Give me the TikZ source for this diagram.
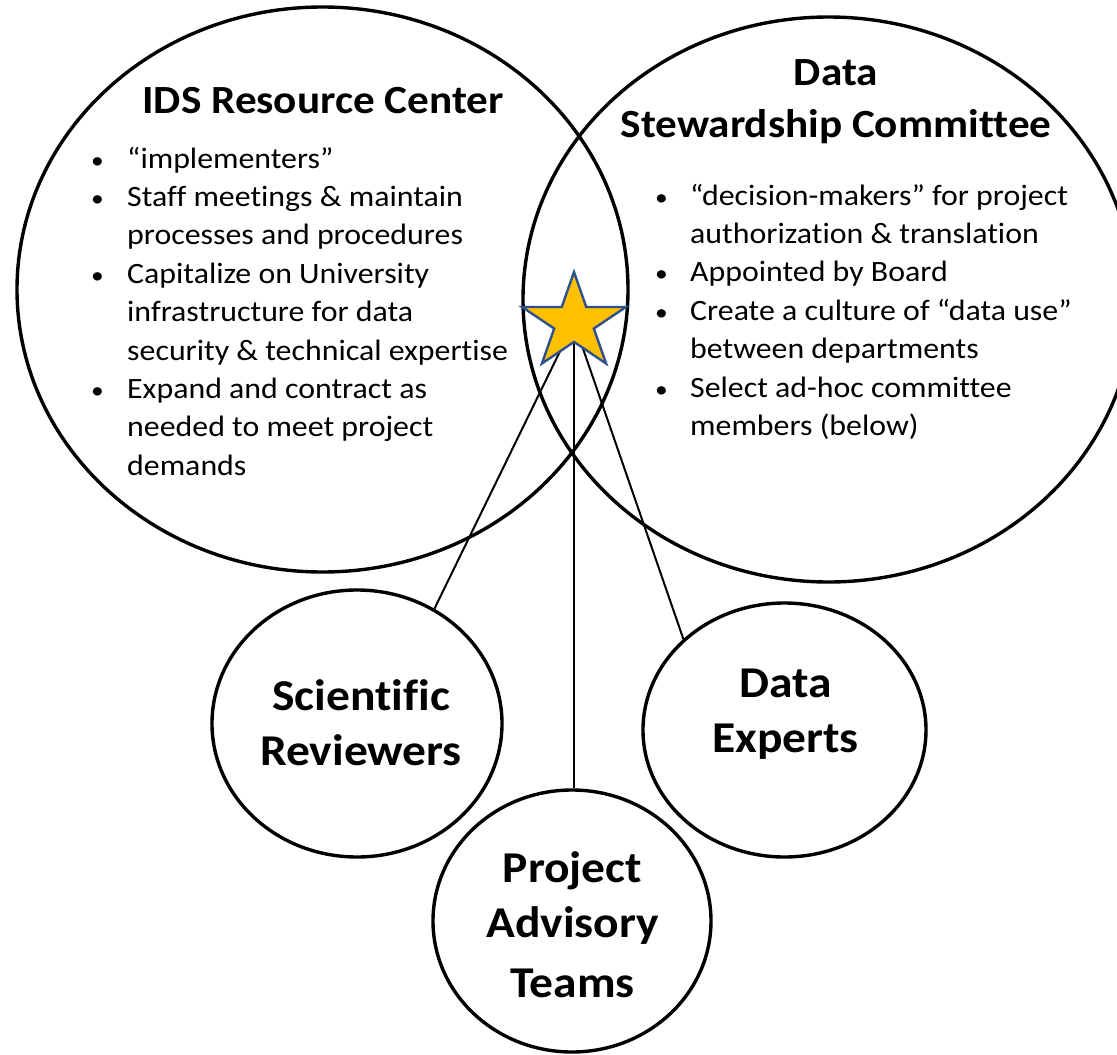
\documentclass[tikz,border=0pt]{standalone}
\usepackage{fontspec}
\setmainfont{Carlito}[FakeStretch=1.08, Ligatures={NoCommon}]
\usetikzlibrary{shapes.geometric}
\definecolor{stargold}{HTML}{FFC000}
\definecolor{starblue}{HTML}{2F528F}
\newcommand{\blt}{\scalebox{0.8}{•}}
\begin{document}
\begin{tikzpicture}[x=1pt,y=-1pt,
  bigring/.style={ellipse, draw, line width=3.4pt, inner sep=0pt, minimum width=611pt, minimum height=565pt},
  smallring/.style={ellipse, draw, line width=3.4pt, inner sep=0pt, fill=white},
  link/.style={draw, line width=2pt},
  titletext/.style={font=\bfseries\fontsize{40}{52}\selectfont, inner sep=0pt, anchor=base},
  listtext/.style={font=\fontsize{29.5}{38.4}\selectfont, inner sep=0pt, anchor=base west},
  labeltext/.style={font=\bfseries\fontsize{44}{55}\selectfont, inner sep=0pt, anchor=base},
  starshape/.style={fill=stargold, draw=starblue, line width=2.4pt, line join=miter}
]
\useasboundingbox (0,0) rectangle (1117,1055);
\clip (0,0) rectangle (1117,1055);
\fill[white] (0,0) rectangle (1117,1055);

% big rings
\node[bigring] (ids) at (322.5,289.5) {};
\node[bigring] (dsc) at (828.5,299.5) {};

% small rings
\node[smallring, minimum width=290pt, minimum height=267pt] (sr) at (357,723.5) {};
\node[smallring, minimum width=283pt, minimum height=254pt] (de) at (784.5,730) {};
\node[smallring, minimum width=278pt, minimum height=262pt] (pat) at (572,921) {};

% star centre and connectors
\coordinate (starc) at (574,322.6);
\draw[link] (starc) -- (sr.56.5);
\draw[link] (starc) -- (starc |- pat.north);
\draw[link] (starc) -- (de.138);

% star
\path[starshape] (574,272.0) -- (586.25,306.99) -- (625.97,306.96) -- (593.82,328.56)
  -- (606.12,363.54) -- (574,341.9) -- (541.88,363.54) -- (554.18,328.56)
  -- (522.03,306.96) -- (561.75,306.99) -- cycle;

% titles
\node[titletext] (idst) at (323,113) {IDS Resource Center};
\node[titletext] (dsct) at (836,85) {\begin{tabular}[t]{@{}c@{}}Data\\Stewardship Committee\end{tabular}};

% lists
\node[listtext] (idsl) at (91,168) {\begin{tabular}[t]{@{}p{36pt}@{}l@{}}
\blt & “implementers”\\
\blt & Staff meetings \& maintain\\
  & processes and procedures\\
\blt & Capitalize on University\\
  & infrastructure for data\\
  & security \& technical expertise\\
\blt & Expand and contract as\\
  & needed to meet project\\
  & demands
\end{tabular}};
\node[listtext] (dscl) at (655,205) {\begin{tabular}[t]{@{}p{35pt}@{}l@{}}
\blt & “decision-makers” for project\\
  & authorization \& translation\\
\blt & Appointed by Board\\
\blt & Create a culture of “data use”\\
  & between departments\\
\blt & Select ad-hoc committee\\
  & members (below)
\end{tabular}};

% labels
\node[labeltext] (srt) at (361,710) {\begin{tabular}[t]{@{}c@{}}Scientific\\Reviewers\end{tabular}};
\node[labeltext] (det) at (785.5,697) {\begin{tabular}[t]{@{}c@{}}Data\\Experts\end{tabular}};
\node[labeltext] (patt) at (572.5,882) {\begin{tabular}[t]{@{}c@{}}Project\\Advisory\\[5pt]Teams\end{tabular}};
\end{tikzpicture}
\end{document}
